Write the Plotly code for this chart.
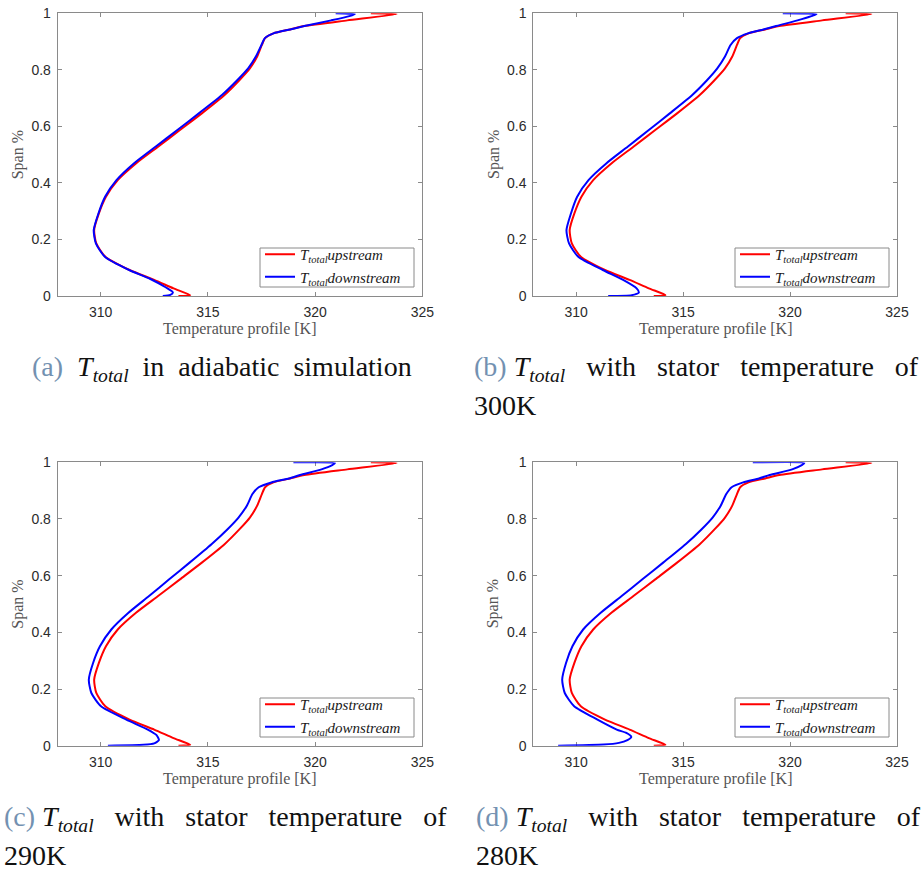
import plotly.graph_objects as go

# ---------------- data ----------------
# upstream total temperature (identical in all four panels)
span_up = [0.000, 0.003, 0.027, 0.057, 0.092, 0.139, 0.186, 0.233, 0.292, 0.351, 0.410, 0.469,
           0.528, 0.587, 0.646, 0.711, 0.764, 0.805, 0.847, 0.888, 0.912, 0.929, 0.943, 0.955,
           0.975, 0.997, 1.000]
T_up = [313.63, 314.18, 313.40, 312.50, 311.35, 310.22, 309.80, 309.70, 309.92, 310.25, 310.80, 311.65,
        312.68, 313.70, 314.72, 315.78, 316.48, 316.96, 317.30, 317.52, 317.67, 318.06, 318.84, 319.50,
        321.50, 323.80, 322.60]

# downstream total temperature, (a) adiabatic
span_a = [0.000, 0.004, 0.013, 0.030, 0.061, 0.092, 0.139, 0.186, 0.233, 0.292, 0.351, 0.410, 0.469,
          0.528, 0.587, 0.646, 0.711, 0.764, 0.805, 0.847, 0.888, 0.912, 0.929, 0.943, 0.955,
          0.975, 0.990, 0.997, 1.000]
T_a = [312.90, 313.25, 313.37, 313.05, 312.30, 311.33, 310.20, 309.78, 309.68, 309.90, 310.21, 310.74, 311.55,
       312.56, 313.58, 314.58, 315.66, 316.38, 316.88, 317.24, 317.50, 317.66, 318.06, 318.84, 319.50,
       320.75, 321.60, 321.86, 320.96]

# (b) stator 300 K
span_b = [0.000, 0.003, 0.012, 0.027, 0.057, 0.092, 0.139, 0.186, 0.233, 0.292, 0.351, 0.410, 0.469,
          0.528, 0.587, 0.646, 0.711, 0.764, 0.805, 0.847, 0.888, 0.912, 0.929, 0.943, 0.955,
          0.975, 0.990, 0.997, 1.000]
T_b = [311.50, 312.60, 312.93, 312.83, 312.20, 311.25, 310.10, 309.67, 309.55, 309.76, 310.05, 310.58, 311.41,
       312.41, 313.40, 314.38, 315.43, 316.13, 316.60, 316.96, 317.22, 317.52, 318.03, 318.75, 319.35,
       320.35, 321.00, 321.24, 319.66]

# (c) stator 290 K
span_c = [0.000, 0.003, 0.008, 0.020, 0.038, 0.057, 0.092, 0.139, 0.186, 0.233, 0.292, 0.351, 0.410, 0.469,
          0.528, 0.587, 0.646, 0.711, 0.764, 0.805, 0.847, 0.888, 0.912, 0.929, 0.943, 0.955,
          0.975, 0.990, 0.997, 1.000]
T_c = [310.34, 312.00, 312.50, 312.72, 312.60, 312.20, 311.20, 310.02, 309.57, 309.45, 309.65, 309.97, 310.50, 311.30,
       312.26, 313.20, 314.15, 315.17, 315.92, 316.43, 316.82, 317.08, 317.37, 317.96, 318.79, 319.30,
       320.30, 320.80, 320.93, 318.99]

# (d) stator 280 K
span_d = [0.000, 0.004, 0.010, 0.020, 0.031, 0.045, 0.057, 0.092, 0.139, 0.186, 0.233, 0.292, 0.351, 0.410, 0.469,
          0.528, 0.587, 0.646, 0.711, 0.764, 0.805, 0.847, 0.888, 0.912, 0.929, 0.943, 0.955,
          0.975, 0.990, 0.997, 1.000]
T_d = [309.16, 311.30, 312.00, 312.40, 312.58, 312.35, 311.90, 311.00, 309.91, 309.47, 309.35, 309.53, 309.83, 310.33, 311.15,
       312.13, 313.10, 314.07, 315.12, 315.87, 316.38, 316.76, 317.02, 317.27, 317.81, 318.55, 319.05,
       320.10, 320.55, 320.67, 318.26]

downstream = [(span_a, T_a), (span_b, T_b), (span_c, T_c), (span_d, T_d)]

x_ticks = [310, 315, 320, 325]
y_ticks = [0, 0.2, 0.4, 0.6, 0.8, 1]
y_ticklabels = ["0", "0.2", "0.4", "0.6", "0.8", "1"]

labels = ["(a)", "(b)", "(c)", "(d)"]
SA = "\u2002"            # slightly wider word space for caption (a)
SP = "\u2002\u2005"      # justified word space for two-line captions
caption_line1 = [
    SA + "<i>T</i><sub><i>total</i></sub>" + SA + "in" + SA + "adiabatic" + SA + "simulation",
    " <i>T</i><sub><i>total</i></sub>" + SP + "with" + SP + "stator" + SP + "temperature" + SP + "of",
    " <i>T</i><sub><i>total</i></sub>" + SP + "with" + SP + "stator" + SP + "temperature" + SP + "of",
    " <i>T</i><sub><i>total</i></sub>" + SP + "with" + SP + "stator" + SP + "temperature" + SP + "of",
]
caption_line2 = ["", "300K", "290K", "280K"]

name_up = "<i>T</i><sub><i>total</i></sub><i>upstream</i>"
name_down = "<i>T</i><sub><i>total</i></sub><i>downstream</i>"

# ---------------- layout geometry (pixels) ----------------
W, H = 923, 873
boxes = [(57.7, 422.3, 13.3, 296.0), (533.3, 897.0, 13.3, 296.0),
         (57.7, 422.3, 462.3, 745.7), (533.3, 897.0, 462.3, 745.7)]
legend_boxes = [(260, 414, 248, 287), (735, 889, 248, 287),
                (260, 414, 698, 737), (735, 889, 698, 737)]

def px(x):
    return x / W

def py(y):
    return 1 - y / H

RED = "#ff0000"
BLUE = "#0000ff"
GRAY = "#8a8a8a"
SERIF = "Liberation Serif"
SANS = "Liberation Sans"

fig = go.Figure()
layout = dict(width=W, height=H, margin=dict(l=0, r=0, t=0, b=0, autoexpand=False),
              paper_bgcolor="white", plot_bgcolor="white", showlegend=True,
              hovermode=False)
annotations = []
shapes = []

for i, (x0, x1, y0, y1) in enumerate(boxes):
    sfx = "" if i == 0 else str(i + 1)
    leg = "legend" if i == 0 else "legend" + str(i + 1)
    sd, td = downstream[i]
    fig.add_trace(go.Scatter(x=T_up, y=span_up, mode="lines", name=name_up,
                             line=dict(color=RED, width=2, shape="spline", smoothing=0.6),
                             xaxis="x" + sfx, yaxis="y" + sfx, legend=leg, cliponaxis=True))
    fig.add_trace(go.Scatter(x=td, y=sd, mode="lines", name=name_down,
                             line=dict(color=BLUE, width=2, shape="spline", smoothing=0.6),
                             xaxis="x" + sfx, yaxis="y" + sfx, legend=leg, cliponaxis=True))
    axcommon = dict(showline=True, linecolor=GRAY, linewidth=1, mirror="ticks",
                    ticks="inside", ticklen=4, tickcolor=GRAY, showgrid=False,
                    zeroline=False, layer="below traces", automargin=False, fixedrange=True,
                    tickfont=dict(family=SANS, size=14, color="#2b2b2b"))
    layout["xaxis" + sfx] = dict(axcommon, domain=[px(x0), px(x1)], range=[308, 325],
                                 tickvals=x_ticks, anchor="y" + sfx, ticklabelstandoff=3)
    layout["yaxis" + sfx] = dict(axcommon, domain=[py(y1), py(y0)], range=[0, 1],
                                 tickvals=y_ticks, ticktext=y_ticklabels, anchor="x" + sfx,
                                 ticklabelstandoff=3)
    # legend frame (MATLAB style box) and legend entries
    lx0, lx1, ly0, ly1 = legend_boxes[i]
    shapes.append(dict(type="rect", xref="paper", yref="paper",
                       x0=px(lx0), x1=px(lx1), y0=py(ly1), y1=py(ly0),
                       line=dict(color=GRAY, width=1), fillcolor="white", layer="above"))
    layout[leg] = dict(x=px(lx0), y=py(ly0 - 10), xanchor="left", yanchor="top",
                       bgcolor="rgba(0,0,0,0)", borderwidth=0,
                       font=dict(family=SERIF, size=15, color="#1a1a1a"),
                       itemwidth=30, tracegroupgap=0)
    # axis titles
    cx = (x0 + x1) / 2
    annotations.append(dict(xref="paper", yref="paper", x=px(cx), y=py(y1 + 33),
                            text="Temperature profile [K]", showarrow=False,
                            xanchor="center", yanchor="middle",
                            font=dict(family=SERIF, size=16, color="#555555")))
    annotations.append(dict(xref="paper", yref="paper", x=px(x0 - 40), y=py((y0 + y1) / 2),
                            text="Span %", showarrow=False, textangle=-90,
                            xanchor="center", yanchor="middle",
                            font=dict(family=SERIF, size=16, color="#555555")))

# captions
cap_font = dict(family=SERIF, size=28, color="#111111")
lab = '<span style="color:#7391b1">%s</span>'
annotations.append(dict(xref="paper", yref="paper", x=px(222), y=py(368), showarrow=False,
                        xanchor="center", yanchor="middle", font=cap_font,
                        text=lab % labels[0] + caption_line1[0]))
for i, (xs, yl1) in enumerate([(472, 368), (2, 818), (474, 818)], start=1):
    annotations.append(dict(xref="paper", yref="paper", x=px(xs), y=py(yl1), showarrow=False,
                            xanchor="left", yanchor="middle", font=cap_font,
                            text=lab % labels[i] + caption_line1[i]))
    annotations.append(dict(xref="paper", yref="paper", x=px(xs), y=py(yl1 + 37), showarrow=False,
                            xanchor="left", yanchor="middle", font=cap_font,
                            text=caption_line2[i]))

layout["annotations"] = annotations
layout["shapes"] = shapes
fig.update_layout(**layout)
fig.write_html("out.html", config={"displayModeBar": False, "staticPlot": True},
               post_script="document.body.style.margin='0';document.body.style.overflow='hidden';")
